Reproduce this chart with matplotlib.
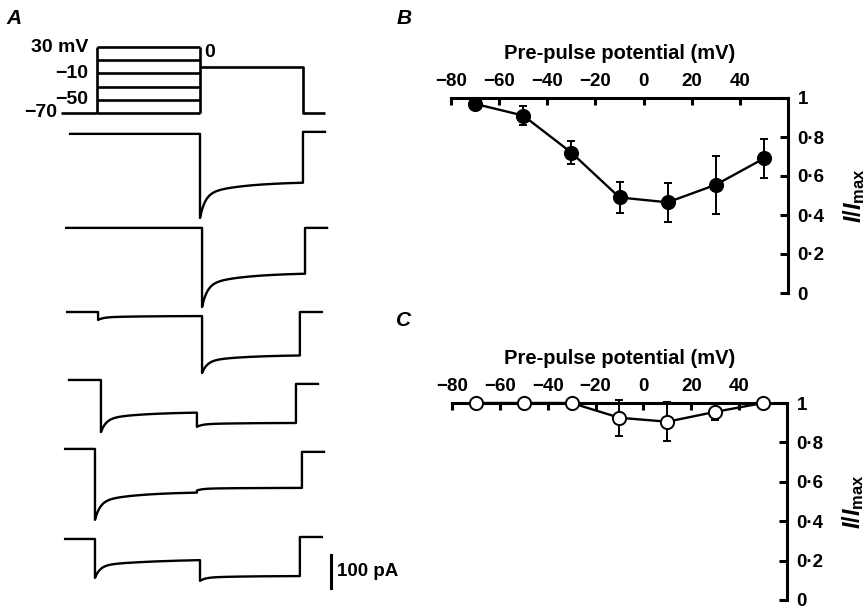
import matplotlib
matplotlib.use('Agg')
import matplotlib.pyplot as plt
from matplotlib.ticker import FixedLocator, FixedFormatter
import numpy as np

plt.rcParams['font.family'] = ['Liberation Sans', 'DejaVu Sans']
plt.rcParams['font.weight'] = 'bold'
plt.rcParams['axes.labelweight'] = 'bold'
plt.rcParams['mathtext.fontset'] = 'custom'
plt.rcParams['mathtext.it'] = 'Liberation Sans:italic:bold'
plt.rcParams['mathtext.rm'] = 'Liberation Sans:bold'

W, H = 866, 610

# --- panel A: voltage protocol (mV, ms)
hold_mv = -70
test_mv = 0
pre_levels = [30, 10, -10, -30, -50, -70]
labelled = {30: '30 mV', -10: '\u221210', -50: '\u221250'}
t_start, t_pre, t_test, t_off, t_stop = -175, 0, 500, 1000, 1107

# --- panel A: current traces (pA), one entry per sweep, top to bottom
offsets = [-42, -327, -582, -788, -997, -1270]
tr_start = [-131, -150, -145, -136, -155, -155]
tr_pre = [0, 0, 5, 19, -10, -10]
tr_test = [500, 510, 510, 485, 485, 500]
tr_off = [1000, 1010, 985, 966, 995, 985]
pre_peak = [0, 0, -24, -158, -215, -118]
pre_end = [0, 0, -12, -97, -130, -60]
test_peak = [-255, -240, -185, -142, -126, -127]
test_end = [-145, -136, -130, -130, -118, -112]
tail = [6, 0, 0, -12, -9, 6]
slow_tau = [200, 200, 200, 200, 200, 320]

# --- panels B and C
pre_pot = [-70, -50, -30, -10, 10, 30, 50]
b_rel = [0.97, 0.91, 0.72, 0.49, 0.465, 0.555, 0.69]
b_err = [0.01, 0.05, 0.06, 0.08, 0.10, 0.15, 0.10]
c_rel = [1.0, 1.0, 1.0, 0.925, 0.905, 0.955, 1.0]
c_err = [0, 0, 0, 0.09, 0.10, 0.04, 0]
x_ticks = [-80, -60, -40, -20, 0, 20, 40]
x_labels = ['\u221280', '\u221260', '\u221240', '\u221220', '0', '20', '40']
y_ticks = [0, 0.2, 0.4, 0.6, 0.8, 1.0]
y_labels = ['0', '0\u00b72', '0\u00b74', '0\u00b76', '0\u00b78', '1']


def px_axes(fig, l, t, r, b):
    return fig.add_axes([l / W, 1 - b / H, (r - l) / W, (b - t) / H])


def decay(t, peak, end, slow=200.0):
    # fast + slow relaxation from peak to end level
    return end + (peak - end) * (0.65 * np.exp(-t / 25.0) + 0.35 * np.exp(-t / slow))


def build_trace(i):
    ts, ys = [], []
    ts.append([tr_start[i], tr_pre[i]])
    ys.append([0, 0])
    t1 = np.linspace(0, tr_test[i] - tr_pre[i], 150)
    ts.append(tr_pre[i] + t1)
    ys.append(decay(t1, pre_peak[i], pre_end[i], slow_tau[i]))
    t2 = np.linspace(0, tr_off[i] - tr_test[i], 150)
    ts.append(tr_test[i] + t2)
    ys.append(decay(t2, test_peak[i], test_end[i]))
    ts.append([tr_off[i], tr_off[i] + 107])
    ys.append([tail[i], tail[i]])
    return np.concatenate(ts), np.concatenate(ys) + offsets[i]


fig = plt.figure(figsize=(W / 100, H / 100), dpi=100)

# protocol
axp = px_axes(fig, 61, 47, 325, 113)
axp.set_xlim(t_start, t_stop)
axp.set_ylim(-70, 30)
axp.axis('off')
kw = dict(color='black', lw=1.9, clip_on=False, solid_capstyle='butt')
for v in pre_levels:
    axp.plot([t_pre, t_test], [v, v], **kw)
axp.plot([t_pre, t_pre], [hold_mv, max(pre_levels)], **kw)
axp.plot([t_test, t_test], [hold_mv, max(pre_levels)], **kw)
axp.plot([t_start, t_pre], [hold_mv, hold_mv], **kw)
axp.plot([t_test, t_off, t_off, t_stop], [test_mv, test_mv, hold_mv, hold_mv], **kw)
for v, s in labelled.items():
    axp.text(-44, v, s, ha='right', va='center', fontsize=14)
axp.text(-194, hold_mv, '\u221270', ha='right', va='center', fontsize=14)
axp.text(522, 21, '0', ha='left', va='center', fontsize=14)

# traces
axt = px_axes(fig, 61, 120, 325, 600)
axt.set_xlim(t_start, t_stop)
axt.set_ylim(-1455, 0)
axt.axis('off')
for i in range(len(offsets)):
    tt, yy = build_trace(i)
    axt.plot(tt, yy, color='black', lw=1.7, clip_on=False)
axt.plot([1136, 1136], [-1318, -1418], color='black', lw=2.2, clip_on=False)
axt.text(1165, -1368, '100 pA', ha='left', va='center', fontsize=13.5)


def iv_panel(ax, yvals, errs, face):
    ax.set_xlim(-80, 60)
    ax.set_ylim(0, 1)
    for s in ['left', 'bottom']:
        ax.spines[s].set_visible(False)
    for s in ['top', 'right']:
        ax.spines[s].set_linewidth(2.2)
    ax.xaxis.tick_top()
    ax.yaxis.tick_right()
    ax.xaxis.set_major_locator(FixedLocator(x_ticks))
    ax.xaxis.set_major_formatter(FixedFormatter(x_labels))
    ax.yaxis.set_major_locator(FixedLocator(y_ticks))
    ax.yaxis.set_major_formatter(FixedFormatter(y_labels))
    ax.tick_params(axis='x', direction='in', length=5, width=2.2, pad=6, labelsize=13.5)
    ax.tick_params(axis='y', direction='in', length=6, width=2.2, pad=7, labelsize=13.5)
    ax.xaxis.set_label_position('top')
    ax.set_xlabel('Pre-pulse potential (mV)', fontsize=14.5, labelpad=10)
    ax.yaxis.set_label_position('right')
    ax.set_ylabel(r'$\mathit{I/I}_{\mathrm{max}}$', fontsize=17, labelpad=12)
    ax.errorbar(pre_pot, yvals, yerr=errs, fmt='none', ecolor='black',
                elinewidth=1.4, capsize=3, capthick=1.4, clip_on=False, zorder=2)
    ax.plot(pre_pot, yvals, '-o', color='black', lw=1.7, ms=9.5,
            mfc=face, mec='black', mew=1.4, clip_on=False, zorder=3)


axb = px_axes(fig, 451, 98, 788, 293)
iv_panel(axb, b_rel, b_err, 'black')
axc = px_axes(fig, 452, 403, 787, 600)
iv_panel(axc, c_rel, c_err, 'white')

for s, x, y in [('A', 14, 18), ('B', 404, 18), ('C', 404, 321)]:
    fig.text(x / W, 1 - y / H, s, ha='center', va='center', fontsize=15,
             style='italic', weight='bold')

fig.savefig('out.png', dpi=100)
